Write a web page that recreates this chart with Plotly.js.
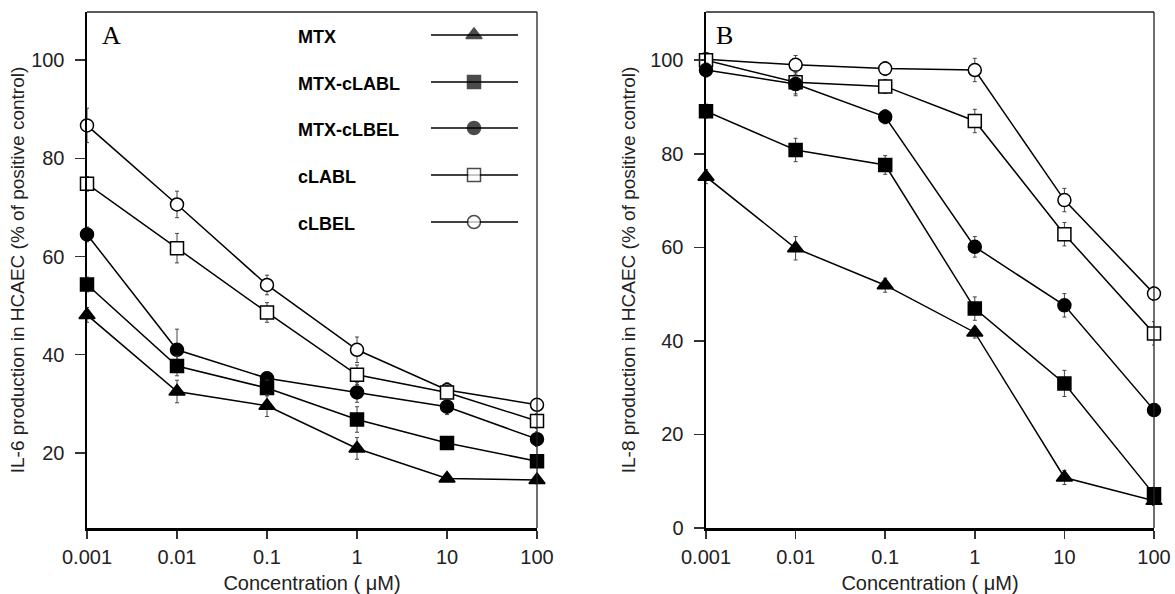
<!DOCTYPE html>
<html>
<head>
<meta charset="utf-8">
<script src="https://cdn.plot.ly/plotly-3.0.1.min.js"></script>
<style>html,body{margin:0;padding:0;background:#fff;}#chart{width:1175px;height:594px;}</style>
</head>
<body>
<div id="chart"></div>
<script>
// ---- data ----
const concentrations = [0.001, 0.01, 0.1, 1, 10, 100];
const concLabels = ['0.001', '0.01', '0.1', '1', '10', '100'];
const seriesNames = ['MTX', 'MTX-cLABL', 'MTX-cLBEL', 'cLABL', 'cLBEL'];

// Panel A: IL-6 production (% of positive control)
const il6_MTX       = [48.1, 32.5, 29.6, 20.9, 14.8, 14.5];
const il6_MTX_cLABL = [54.3, 37.7, 33.2, 26.8, 22.0, 18.3];
const il6_MTX_cLBEL = [64.5, 41.0, 35.2, 32.3, 29.4, 22.8];
const il6_cLABL     = [74.8, 61.7, 48.6, 35.9, 32.3, 26.5];
const il6_cLBEL     = [86.7, 70.6, 54.2, 41.0, 32.8, 29.8];
const il6_err_MTX       = [1.5, 2.3, 2.2, 2.2, 0.6, 0.8];
const il6_err_MTX_cLABL = [1.5, 2.0, 1.6, 2.6, 0.8, 1.0];
const il6_err_MTX_cLBEL = [1.5, 4.2, 1.2, 2.0, 1.6, 1.5];
const il6_err_cLABL     = [1.5, 3.0, 2.0, 2.0, 1.5, 1.5];
const il6_err_cLBEL     = [3.5, 2.7, 2.0, 2.6, 1.5, 1.0];

// Panel B: IL-8 production (% of positive control)
const il8_MTX       = [75.1, 59.8, 51.9, 41.8, 10.8, 5.8];
const il8_MTX_cLABL = [89.1, 80.8, 77.6, 46.9, 30.9, 7.2];
const il8_MTX_cLBEL = [97.9, 94.9, 87.9, 60.1, 47.6, 25.2];
const il8_cLABL     = [100.0, 95.3, 94.4, 87.0, 62.8, 41.6];
const il8_cLBEL     = [100.2, 99.0, 98.2, 97.9, 70.1, 50.1];
const il8_err_MTX       = [1.5, 2.5, 1.5, 1.2, 1.5, 1.0];
const il8_err_MTX_cLABL = [1.5, 2.5, 2.0, 2.5, 2.8, 1.5];
const il8_err_MTX_cLBEL = [1.5, 2.5, 1.5, 2.2, 2.5, 1.2];
const il8_err_cLABL     = [1.0, 2.5, 1.5, 2.5, 2.5, 2.5];
const il8_err_cLBEL     = [1.0, 2.0, 1.5, 2.5, 2.5, 1.5];

// ---- styles ----
const FONT = 'Liberation Sans, Arial, sans-serif';
const styles = {
  'MTX':       {symbol: 'triangle-up', color: 'black', size: 14},
  'MTX-cLABL': {symbol: 'square',      color: 'black', size: 13},
  'MTX-cLBEL': {symbol: 'circle',      color: 'black', size: 13},
  'cLABL':     {symbol: 'square',      color: 'white', size: 13},
  'cLBEL':     {symbol: 'circle',      color: 'white', size: 13}
};

const panelA = {
  'MTX': [il6_MTX, il6_err_MTX], 'MTX-cLABL': [il6_MTX_cLABL, il6_err_MTX_cLABL],
  'MTX-cLBEL': [il6_MTX_cLBEL, il6_err_MTX_cLBEL], 'cLABL': [il6_cLABL, il6_err_cLABL],
  'cLBEL': [il6_cLBEL, il6_err_cLBEL]
};
const panelB = {
  'MTX': [il8_MTX, il8_err_MTX], 'MTX-cLABL': [il8_MTX_cLABL, il8_err_MTX_cLABL],
  'MTX-cLBEL': [il8_MTX_cLBEL, il8_err_MTX_cLBEL], 'cLABL': [il8_cLABL, il8_err_cLABL],
  'cLBEL': [il8_cLBEL, il8_err_cLBEL]
};

const drawOrder = ['cLBEL', 'cLABL', 'MTX-cLBEL', 'MTX-cLABL', 'MTX'];
const traces = [];
function addPanel(panel, xa, ya) {
  drawOrder.forEach(name => {
    const st = styles[name];
    traces.push({
      type: 'scatter', mode: 'lines+markers', name: name,
      x: concentrations, y: panel[name][0], xaxis: xa, yaxis: ya,
      cliponaxis: false, showlegend: false,
      line: {color: 'black', width: 1.5},
      marker: {symbol: st.symbol, size: st.size, color: st.color, line: {color: 'black', width: 1.5}},
      error_y: {type: 'data', array: panel[name][1], visible: true, color: '#444', thickness: 1, width: 2}
    });
  });
}
addPanel(panelA, 'x', 'y');
addPanel(panelB, 'x2', 'y2');

// legend samples (custom, text on the left, symbol on the right)
const W = 1175, H = 594;
const legendRowsY = [35, 82, 128, 175, 222];
const legendTextX = 296, legendLineX0 = 431, legendLineX1 = 518, legendMarkX = 474;
traces.push({
  type: 'scatter', mode: 'markers', xaxis: 'x3', yaxis: 'y3', showlegend: false, cliponaxis: false,
  hoverinfo: 'skip',
  x: seriesNames.map(() => legendMarkX), y: legendRowsY,
  marker: {
    symbol: seriesNames.map(n => styles[n].symbol),
    color: seriesNames.map(n => styles[n].color),
    size: seriesNames.map(n => styles[n].size),
    line: {color: 'black', width: 1.5}
  }
});

const shapes = [];
const annotations = [];
seriesNames.forEach((n, i) => {
  shapes.push({type: 'line', xref: 'x3', yref: 'y3', x0: legendLineX0, x1: legendLineX1,
    y0: legendRowsY[i], y1: legendRowsY[i], line: {color: 'black', width: 1.5}, layer: 'below'});
  annotations.push({xref: 'paper', yref: 'paper', x: legendTextX / W, y: 1 - (legendRowsY[i] + 2) / H,
    xanchor: 'left', yanchor: 'middle', showarrow: false, text: '<b>' + n + '</b>',
    font: {family: FONT, size: 18, color: 'black'}});
});
// frame top/right thin lines
[['x', 'y'], ['x2', 'y2']].forEach(([xa, ya]) => {
  shapes.push({type: 'line', xref: xa + ' domain', yref: ya + ' domain', x0: 0, x1: 1, y0: 1, y1: 1,
    line: {color: '#222', width: 1.3}});
  shapes.push({type: 'line', xref: xa + ' domain', yref: ya + ' domain', x0: 1, x1: 1, y0: 0, y1: 1,
    line: {color: '#222', width: 1.3}});
});
// panel letters
annotations.push({xref: 'paper', yref: 'paper', x: 100 / W, y: 1 - 35 / H, xanchor: 'left', yanchor: 'middle',
  showarrow: false, text: 'A', font: {family: 'Liberation Serif, Times New Roman, serif', size: 26, color: 'black'}});
annotations.push({xref: 'paper', yref: 'paper', x: 714 / W, y: 1 - 35 / H, xanchor: 'left', yanchor: 'middle',
  showarrow: false, text: 'B', font: {family: 'Liberation Serif, Times New Roman, serif', size: 26, color: 'black'}});

const yDomain = [1 - 528 / H, 1 - 12 / H];
function xAxis(domain, anchor) {
  return {
    domain: domain, anchor: anchor, type: 'log', range: [-3, 2],
    tickvals: concentrations, ticktext: concLabels,
    ticks: 'outside', ticklen: 8, tickwidth: 1.5, tickcolor: '#333',
    ticklabelstandoff: 1,
    showline: true, linewidth: 2.5, linecolor: 'black', showgrid: false, zeroline: false,
    tickfont: {family: FONT, size: 20, color: '#222'},
    title: {text: 'Concentration ( μM)', font: {family: FONT, size: 20, color: '#222'}, standoff: 12}
  };
}
function yAxis(range, tickvals, anchor, title, standoff) {
  return {
    domain: yDomain, anchor: anchor, range: range, tickvals: tickvals,
    ticks: 'outside', ticklen: 10, tickwidth: 1.5, tickcolor: '#333',
    ticklabelstandoff: 6,
    showline: true, linewidth: 2.5, linecolor: 'black', showgrid: false, zeroline: false,
    tickfont: {family: FONT, size: 20, color: '#222'},
    title: {text: title, font: {family: FONT, size: 19, color: '#222'}, standoff: standoff}
  };
}

const layout = {
  width: W, height: H, margin: {l: 0, r: 0, t: 0, b: 0},
  paper_bgcolor: 'white', plot_bgcolor: 'rgba(0,0,0,0)',
  showlegend: false,
  xaxis: xAxis([87 / W, 537 / W], 'y'),
  yaxis: yAxis([4.7, 109.8], [20, 40, 60, 80, 100], 'x', 'IL-6 production in HCAEC (% of positive control)', 2),
  xaxis2: xAxis([706 / W, 1154 / W], 'y2'),
  yaxis2: yAxis([0, 110.3], [0, 20, 40, 60, 80, 100], 'x2', 'IL-8 production in HCAEC (% of positive control)', 10),
  xaxis3: {domain: [0, 1], range: [0, W], visible: false, fixedrange: true, anchor: 'y3'},
  yaxis3: {domain: [0, 1], range: [H, 0], visible: false, fixedrange: true, anchor: 'x3'},
  shapes: shapes, annotations: annotations
};

Plotly.newPlot('chart', traces, layout, {displayModeBar: false, staticPlot: true});
</script>
</body>
</html>
